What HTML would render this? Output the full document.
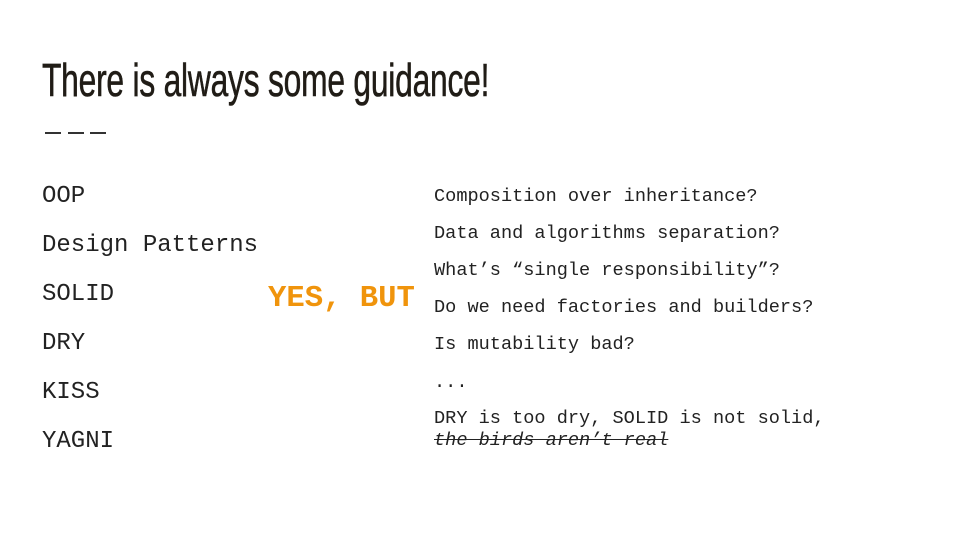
<!DOCTYPE html>
<html><head><style>
body{margin:0;width:960px;height:540px;background:#fff;overflow:hidden;position:relative;font-family:"Liberation Mono",monospace;color:#222}
.t{position:absolute;left:42px;top:53px;font-family:"Liberation Sans",sans-serif;font-size:46px;color:#201c16;transform:scaleX(0.69);transform-origin:left top;white-space:nowrap;letter-spacing:-0.3px;-webkit-text-stroke:0.6px #201c16}
.d{position:absolute;top:132px;height:2px;width:16px;background:#333}
.l{position:absolute;left:42px;font-size:24px;line-height:30px;white-space:nowrap}
.r{position:absolute;left:434px;font-size:18.6px;line-height:22px;white-space:nowrap;color:#222}
.y{position:absolute;left:268px;top:281px;font-size:30.6px;font-weight:bold;color:#f0940c;line-height:36px}
</style></head><body>
<div class="t">There is always some guidance!</div>
<div class="d" style="left:45px"></div><div class="d" style="left:68px"></div><div class="d" style="left:90px"></div>
<div class="l" style="top:182px">OOP</div>
<div class="l" style="top:231px">Design Patterns</div>
<div class="l" style="top:280px">SOLID</div>
<div class="l" style="top:329px">DRY</div>
<div class="l" style="top:378px">KISS</div>
<div class="l" style="top:427px">YAGNI</div>
<div class="y">YES, BUT</div>
<div class="r" style="top:186px">Composition over inheritance?</div>
<div class="r" style="top:223px">Data and algorithms separation?</div>
<div class="r" style="top:260px">What’s “single responsibility”?</div>
<div class="r" style="top:297px">Do we need factories and builders?</div>
<div class="r" style="top:334px">Is mutability bad?</div>
<div class="r" style="top:372px">...</div>
<div class="r" style="top:408px">DRY is too dry, SOLID is not solid,<br><span style="font-style:italic;text-decoration:line-through">the birds aren’t real</span></div>
</body></html>
